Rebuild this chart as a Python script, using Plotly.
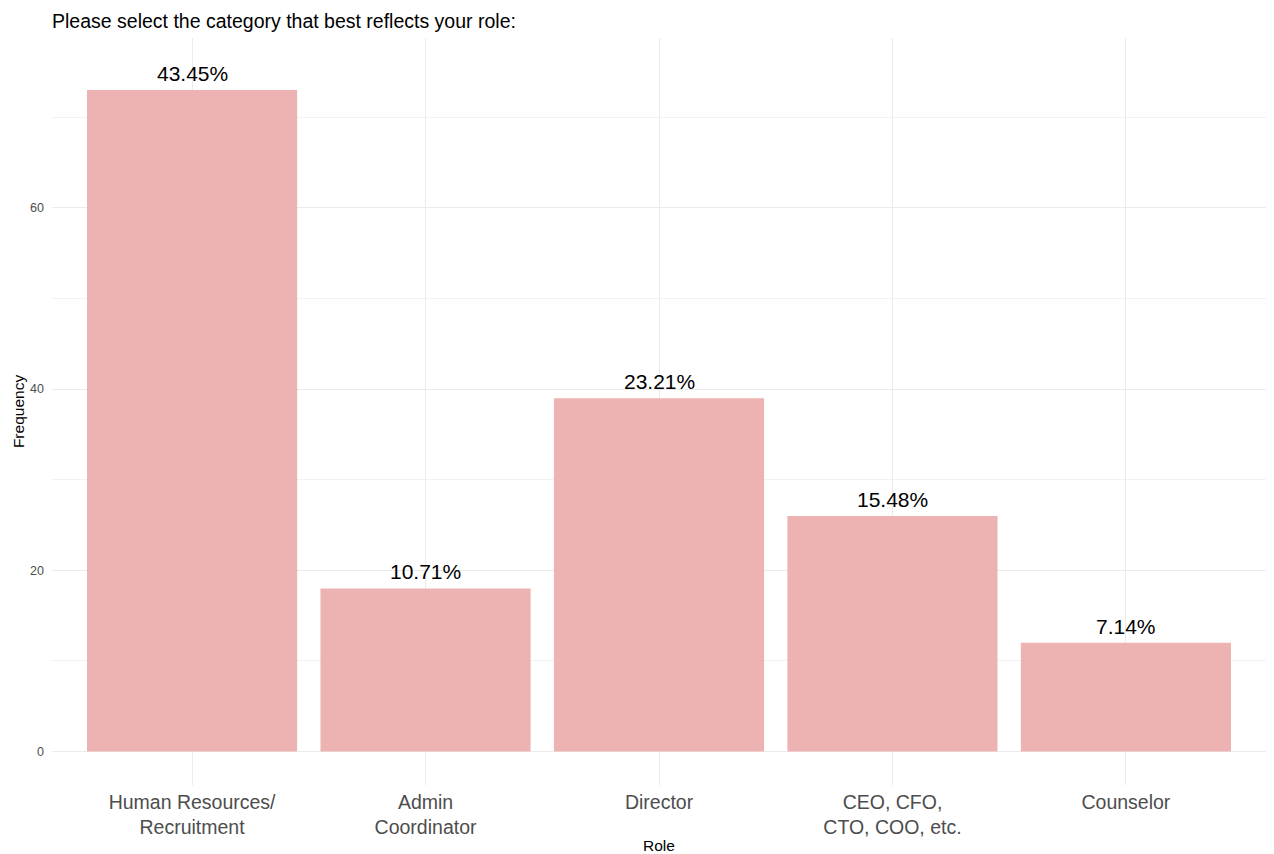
import plotly.graph_objects as go

categories = ["Human Resources/<br>Recruitment", "Admin<br>Coordinator", "Director",
              "CEO, CFO,<br>CTO, COO, etc.", "Counselor"]
counts = [73, 18, 39, 26, 12]
percent_labels = ["43.45%", "10.71%", "23.21%", "15.48%", "7.14%"]
y_ticks = [0, 20, 40, 60]
y_minor_ticks = [10, 30, 50, 70]

bar_color = "#EDB3B2"
font_family = "Liberation Sans, Arial, sans-serif"

fig = go.Figure()
fig.add_trace(go.Bar(
    x=categories, y=counts, marker=dict(color=bar_color, line=dict(width=0)),
    width=0.9, hoverinfo="skip",
))
for c, v, t in zip(categories, counts, percent_labels):
    fig.add_annotation(x=c, y=v, text=t, showarrow=False, yanchor="bottom",
                       yshift=3, font=dict(size=21, color="black", family=font_family))

fig.update_layout(
    width=1274, height=854,
    margin=dict(l=52, r=8, t=38, b=69, autoexpand=False),
    paper_bgcolor="white", plot_bgcolor="white",
    font=dict(family=font_family),
    showlegend=False,
    title=dict(text="Please select the category that best reflects your role:",
               x=52/1274, xanchor="left", y=1-21/854, yanchor="middle",
               font=dict(size=19.5, color="black", family=font_family)),
    xaxis=dict(
        range=[-0.6, 4.6], showgrid=True, gridcolor="#EBEBEB", gridwidth=1,
        tickfont=dict(size=19.5, color="#4D4D4D"), ticks="", zeroline=False,
        showline=False, automargin=False, ticklabelstandoff=3,
        title=dict(text="Role", font=dict(size=15.5, color="black"), standoff=5),
    ),
    yaxis=dict(
        range=[-3.7, 78.75], tickvals=y_ticks, showgrid=True, gridcolor="#EBEBEB",
        gridwidth=1.1, zeroline=False, showline=False, ticks="", automargin=False,
        tickfont=dict(size=12.5, color="#4D4D4D"), ticklabelstandoff=7,
        minor=dict(tickvals=y_minor_ticks, showgrid=True, gridcolor="#F2F2F2", gridwidth=0.8),
        title=dict(text="Frequency", font=dict(size=15.5, color="black"), standoff=1),
    ),
)

fig.write_html("out.html", config={"displayModeBar": False},
               post_script="document.body.style.margin='0';document.body.style.overflow='hidden';")
